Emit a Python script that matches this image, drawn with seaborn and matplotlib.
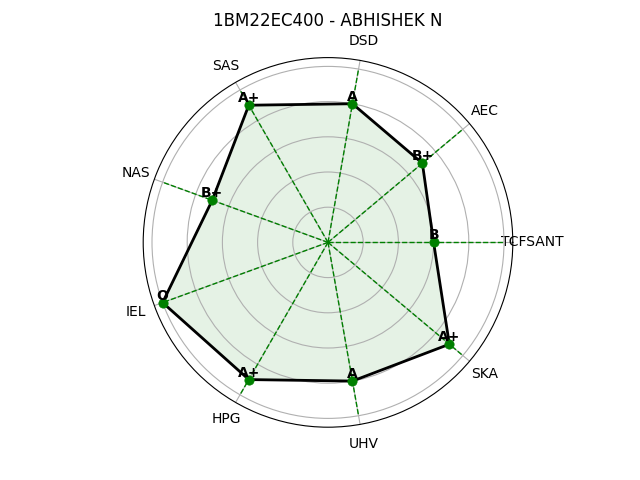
import numpy as np
import pandas as pd
import matplotlib
matplotlib.use("Agg")
import matplotlib.pyplot as plt
import seaborn as sns

categories = ["TCFSANT", "AEC", "DSD", "SAS", "NAS", "IEL", "HPG", "UHV", "SKA"]
grades = ["B", "B+", "A", "A+", "B+", "O", "A+", "A", "A+"]
grade_points = {"O": 10, "A+": 9, "A": 8, "B+": 7, "B": 6}
values = [grade_points[g] for g in grades]
title = "1BM22EC400 - ABHISHEK N"

n = len(categories)
angles = [2 * np.pi * i / n for i in range(n)]
df = pd.DataFrame({"angle": angles + [angles[0]], "value": values + [values[0]]})

fig = plt.figure(figsize=(6.4, 4.8), dpi=100)
ax = fig.add_subplot(111, polar=True)

for a in angles:
    ax.plot([a, a], [0, 10], color="green", linestyle="--", linewidth=1, zorder=2)

ax.fill(df["angle"], df["value"], color="green", alpha=0.1, zorder=1)
sns.lineplot(data=df, x="angle", y="value", sort=False, estimator=None,
             color="black", linewidth=2, ax=ax, zorder=3)
sns.scatterplot(x=angles, y=values, color="green", s=45, edgecolor="green",
                linewidth=0.5, ax=ax, zorder=4)

for a, v, g in zip(angles, values, grades):
    ax.text(a, v, g, ha="center", va="bottom", fontsize=10, fontweight="bold", zorder=5)

ax.set_xticks(angles)
ax.set_xticklabels(categories)
ax.set_yticks([2, 4, 6, 8, 10])
ax.set_yticklabels([])
ax.set_ylim(0, 10.5)
ax.set_xlabel("")
ax.set_ylabel("")
ax.set_title(title)

fig.savefig("out.png", dpi=100)
